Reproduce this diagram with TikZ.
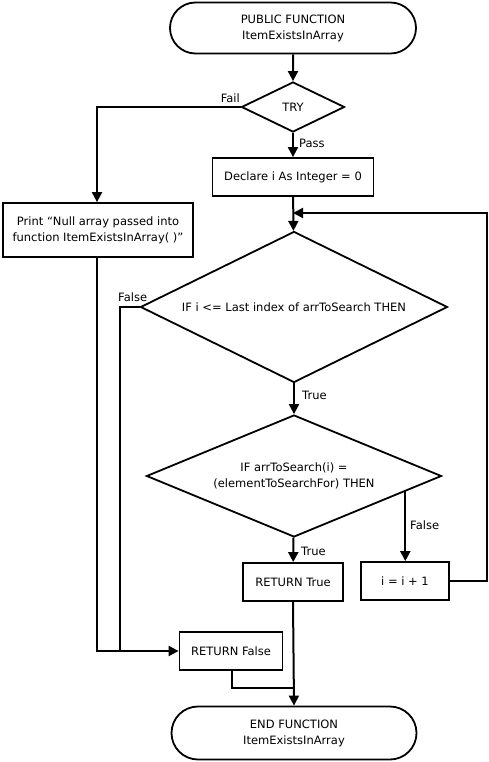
\documentclass[tikz,border=0pt]{standalone}
\usepackage{fontspec}
\setmainfont{DejaVu Sans}
\usetikzlibrary{shapes.geometric,shapes.misc,arrows.meta,calc}
\begin{document}
\begin{tikzpicture}[x=1pt,y=-1pt,
  every node/.style={font=\fontsize{11.5}{16}\selectfont, align=center, inner sep=0pt},
  term/.style={draw, rounded rectangle, line width=1.8pt},
  procbox/.style={draw, rectangle, line width=1.8pt},
  decision/.style={draw, diamond, aspect=2, line width=1.8pt},
  flow/.style={line width=2pt, -{Triangle[length=10pt,width=10pt]}},
  plain/.style={line width=2pt},
  lbl/.style={font=\fontsize{11.5}{13}\selectfont}]
\useasboundingbox (0,0) rectangle (489,762);

\node[term, minimum width=246pt, minimum height=51pt] (start) at (293,28) {PUBLIC FUNCTION\\ItemExistsInArray};
\node[decision, minimum width=103pt, minimum height=50pt] (try) at (293,107) {TRY};
\node[procbox, minimum width=190pt, minimum height=54pt] (print) at (98,230) {Print “Null array passed into\\function ItemExistsInArray( )”};
\node[procbox, minimum width=161pt, minimum height=38pt] (decl) at (293,177) {Declare i As Integer = 0};
\node[decision, minimum width=307pt, minimum height=151pt] (if1) at (294,307) {IF i <= Last index of arrToSearch THEN};
\node[decision, minimum width=295pt, minimum height=122pt] (if2) at (294,476) {IF arrToSearch(i) =\\(elementToSearchFor) THEN};
\node[procbox, minimum width=100pt, minimum height=38pt] (rettrue) at (293,582) {RETURN True};
\node[procbox, minimum width=88pt, minimum height=38pt] (inc) at (405,581) {i = i + 1};
\node[procbox, minimum width=103pt, minimum height=38pt] (retfalse) at (231,651) {RETURN False};
\node[term, minimum width=245pt, minimum height=53pt] (end) at (294,733) {END FUNCTION\\ItemExistsInArray};

\coordinate (loopin) at (293,213);
\coordinate (loopr) at (487,213);
\coordinate (failc) at (97,107);
\coordinate (falsec) at (120,307);
\coordinate (joinf) at (120,651);
\coordinate (printc) at (97,651);
\coordinate (rfc) at (232,688);
\coordinate (rfj) at (294,688);

\draw[flow] (start) -- (try);
\draw[flow] (try.west) -- (failc) -- (print.north -| failc);
\draw[flow] (try) -- (decl);
\draw[flow] (decl) -- (if1);
\draw[flow] (inc.east) -- (inc.east -| loopr) -- (loopr) -- (loopin);
\draw[plain] (if1.west) -- (falsec) -- (joinf);
\draw[flow] (print.south -| failc) -- (printc) -- (retfalse.west);
\draw[flow] (if1) -- (if2);
\coordinate (if2f) at ($(if2.east)!0.25!(if2.south)$);
\draw[flow] (if2f) -- (if2f |- inc.north);
\draw[flow] (if2) -- (rettrue);
\draw[flow] (rettrue.south) -- (end.north);
\draw[plain] (retfalse.south -| rfc) -- (rfc) -- (rfj);

\node[lbl, anchor=south east] (lfail) at (240,103) {Fail};
\node[lbl, anchor=west] (lpass) at (299,143) {Pass};
\node[lbl, anchor=south west] (lfalse1) at (118,302) {False};
\node[lbl, anchor=west] (ltrue1) at (302,395) {True};
\node[lbl, anchor=west] (lfalse2) at (410,525) {False};
\node[lbl, anchor=west] (ltrue2) at (301,551) {True};
\end{tikzpicture}
\end{document}
